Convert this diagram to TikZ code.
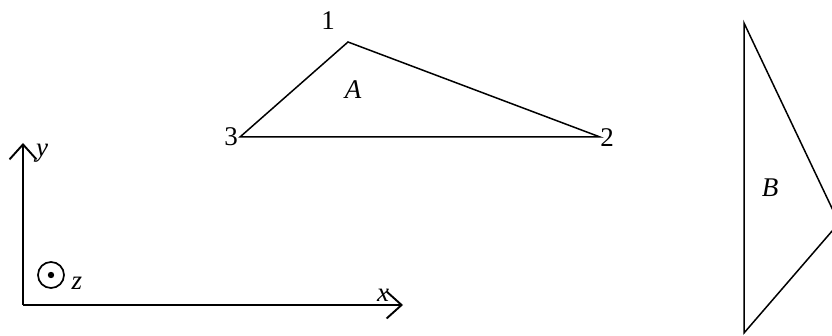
\documentclass[tikz,border=0pt]{standalone}
\usepackage{fontspec}
\setmainfont{Liberation Serif}
\usetikzlibrary{arrows.meta}
\begin{document}
\begin{tikzpicture}[x=1pt,y=-1pt,
  lbl/.style={inner sep=0pt,font=\fontsize{27}{27}\selectfont},
  edge/.style={line width=1.5pt,line join=miter},
  axis/.style={line width=1.9pt,-{Straight Barb[length=15pt,width=27pt,line width=1.9pt]}}]
\useasboundingbox (0,0) rectangle (832,336);
% triangle A
\coordinate (v1) at (348,42);
\coordinate (v2) at (600,137);
\coordinate (v3) at (240,137);
\draw[edge] (v1) -- (v2) -- (v3) -- cycle;
\node[lbl] (n1) at (328,21) {1};
\node[lbl] (n2) at (607,138) {2};
\node[lbl] (n3) at (231,137) {3};
\node[lbl] (nA) at (353,90) {\itshape A};
% triangle B (clipped at right edge)
\begin{scope}
\clip (0,0) rectangle (832,336);
\coordinate (b1) at (744,23);
\coordinate (b2) at (839,223);
\coordinate (b3) at (744,333);
\draw[edge] (b1) -- (b2) -- (b3) -- cycle;
\end{scope}
\node[lbl] (nB) at (770,188) {\itshape B};
% axes
\coordinate (o) at (23,305);
\coordinate (ytip) at (23,143);
\coordinate (xtip) at (403,305);
\draw[axis] (o) -- (ytip);
\draw[axis] (o) -- (xtip);
\node[lbl] (ny) at (42,153) {\itshape y};
\node[lbl] (nx) at (383,295) {\itshape x};
\node[draw,circle,line width=1.7pt,minimum size=26pt,inner sep=0pt] (zc) at (51,275) {};
\fill (zc.center) circle (3.2pt);
\node[lbl] (nz) at (77,283) {\itshape z};
\end{tikzpicture}
\end{document}
